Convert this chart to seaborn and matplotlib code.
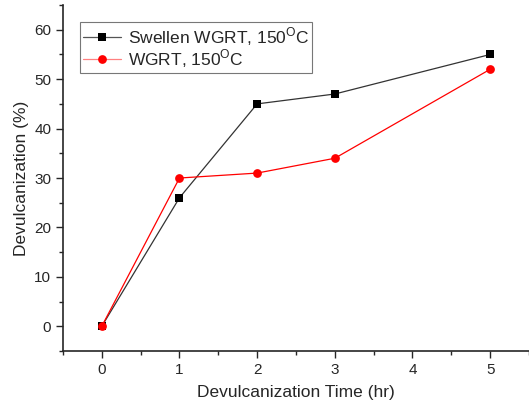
import numpy as np
import pandas as pd
import matplotlib
matplotlib.use('Agg')
import matplotlib.pyplot as plt
import seaborn as sns
from matplotlib.ticker import MultipleLocator

time_hr = [0, 1, 2, 3, 5]
swellen_wgrt = [0, 26, 45, 47, 55]
wgrt = [0, 30, 31, 34, 52]
series_names = ['Swellen WGRT, 150$^{\\mathrm{O}}$C', 'WGRT, 150$^{\\mathrm{O}}$C']

sns.set_style('ticks')
plt.rcParams['font.family'] = ['Liberation Sans', 'DejaVu Sans']
plt.rcParams['mathtext.fontset'] = 'custom'
plt.rcParams['mathtext.rm'] = 'Liberation Sans'

df = pd.DataFrame({
    'time': time_hr * 2,
    'value': swellen_wgrt + wgrt,
    'series': [series_names[0]] * len(time_hr) + [series_names[1]] * len(time_hr),
})

fig = plt.figure(figsize=(5.29, 4.07), dpi=100)
ax = fig.add_axes([0.119, 0.1376, 0.881, 0.850])

sns.lineplot(data=df, x='time', y='value', hue='series', style='series',
             palette={series_names[0]: 'black', series_names[1]: 'red'},
             markers={series_names[0]: 's', series_names[1]: 'o'},
             dashes=False, markersize=6.3, linewidth=0.9, markeredgewidth=0,
             ax=ax)
for line in ax.lines[:1]:
    line.set_color('#333333')
    line.set_markerfacecolor('black')
    line.set_markeredgecolor('black')

ax.set_xlim(-0.5, 5.5)
ax.set_ylim(-5, 65)
ax.xaxis.set_major_locator(MultipleLocator(1))
ax.xaxis.set_minor_locator(MultipleLocator(0.5))
ax.yaxis.set_major_locator(MultipleLocator(10))
ax.yaxis.set_minor_locator(MultipleLocator(5))
ax.tick_params(which='major', length=5, width=1, labelsize=11, direction='out')
ax.tick_params(which='minor', length=3, width=1, direction='out')
sns.despine(ax=ax)
for s in ['left', 'bottom']:
    ax.spines[s].set_linewidth(1.2)

ax.set_xlabel('Devulcanization Time (hr)', fontsize=12.5, labelpad=6)
ax.set_ylabel('Devulcanization (%)', fontsize=12.5)

leg = ax.legend(loc='upper left', bbox_to_anchor=(0.03, 0.96), fontsize=12.5,
                frameon=True, fancybox=False, edgecolor='#555555',
                handlelength=2.2, borderpad=0.15, labelspacing=0.0,
                handletextpad=0.4, borderaxespad=0.2)
leg.get_frame().set_linewidth(0.8)
leg.legend_handles[0].set_color('#555555')
leg.legend_handles[0].set_markerfacecolor('black')
leg.legend_handles[0].set_markeredgecolor('black')
leg.legend_handles[1].set_color('#ff8080')
leg.legend_handles[1].set_markerfacecolor('red')
leg.legend_handles[1].set_markeredgecolor('red')

fig.savefig('out.png', dpi=100)
